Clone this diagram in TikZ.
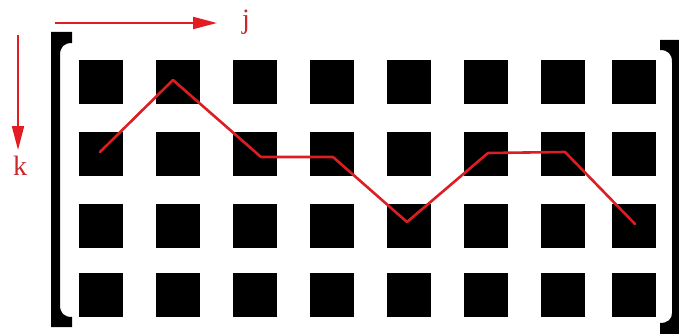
\documentclass[tikz,border=0pt]{standalone}
\usepackage{fontspec}
\setmainfont{Liberation Serif}
\usetikzlibrary{arrows.meta}
\definecolor{axred}{RGB}{226,28,34}
\definecolor{txtred}{RGB}{200,40,45}
\definecolor{pathred}{RGB}{220,30,35}
\begin{document}
\begin{tikzpicture}[x=1pt,y=-1pt,
  cell/.style={fill=black,draw=none,minimum width=44pt,minimum height=44pt,inner sep=0pt,outer sep=0pt},
  axis/.style={draw=axred,line width=2pt,-{Triangle[length=24pt,width=12pt]}},
  lbl/.style={text=txtred,font=\fontsize{28}{32}\selectfont,inner sep=0pt},
  brk/.style={fill=black,draw=none},
  route/.style={draw=pathred,line width=2.6pt,line join=round,line cap=round}]
\useasboundingbox (0,0) rectangle (679,334);
% grid of squares
\foreach \c/\x in {1/101,2/178,3/255,4/332,5/409,6/486,7/563,8/634}
  \foreach \r/\y in {1/82,2/154,3/226,4/295}
    \node[cell] (s\r\c) at (\x,\y) {};
% brackets
\fill[brk] (51,32) -- (72,32) -- (72,43) .. controls (64,43) and (60,47) .. (60,55)
  -- (60,305) .. controls (60,313) and (64,317) .. (72,317) -- (72,327) -- (51,327) -- cycle;
\fill[brk] (679,40) -- (660,40) -- (660,50) .. controls (668,50) and (672,54) .. (672,62)
  -- (672,313) .. controls (672,319) and (668,323) .. (660,323) -- (660,334) -- (679,334) -- cycle;
% axes
\coordinate (j0) at (55,23);
\coordinate (j1) at (217,23);
\coordinate (k0) at (18,35);
\coordinate (k1) at (18,150);
\draw[axis] (j0) -- (j1);
\draw[axis] (k0) -- (k1);
\node[lbl] (jl) at (246,22) {j};
\node[lbl] (kl) at (20,166) {k};
% red path
\coordinate (p1) at (100,152);
\coordinate (p2) at (173,80);
\coordinate (p3) at (261,157);
\coordinate (p4) at (333,157);
\coordinate (p5) at (407,222);
\coordinate (p6) at (488,153);
\coordinate (p7) at (565,152);
\coordinate (p8) at (635,224);
\draw[route] (p1) -- (p2) -- (p3) -- (p4) -- (p5) -- (p6) -- (p7) -- (p8);
\end{tikzpicture}
\end{document}
